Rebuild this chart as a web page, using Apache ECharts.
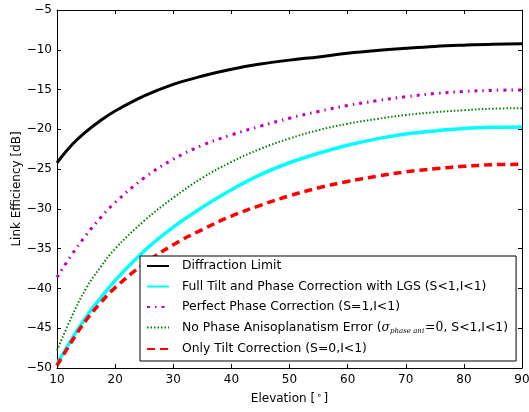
<!DOCTYPE html>
<html>
<head>
<meta charset="utf-8">
<script src="https://cdn.jsdelivr.net/npm/echarts@6/dist/echarts.min.js"></script>
<style>
  html, body { margin: 0; padding: 0; background: #fff; }
  #chart { width: 529px; height: 412px; }
</style>
</head>
<body>
<div id="chart"></div>
<script>
// elevation angle in degrees
const elevation = [10, 12.5, 15, 17.5, 20, 25, 30, 35, 40, 45, 50, 55, 60, 65, 70, 75, 80, 85, 90];

// link efficiency in dB
const diffractionLimit = [-24.2, -22.0, -20.3, -18.9, -17.7, -15.8, -14.35, -13.3, -12.45, -11.8, -11.3, -10.9, -10.45, -10.1, -9.82, -9.58, -9.42, -9.3, -9.25];
const fullTiltLGS = [-49.5, -46.4, -43.6, -41.2, -39.0, -35.3, -32.3, -29.8, -27.6, -25.7, -24.2, -23.0, -22.0, -21.2, -20.6, -20.2, -19.9, -19.75, -19.7];
const perfectPhase = [-38.6, -35.8, -33.3, -31.1, -29.2, -26.1, -23.75, -22.0, -20.7, -19.6, -18.6, -17.75, -17.0, -16.4, -15.9, -15.5, -15.25, -15.1, -15.05];
const noPhaseAniso = [-47.8, -43.6, -40.0, -37.3, -35.0, -31.5, -28.6, -26.1, -24.1, -22.45, -21.15, -20.1, -19.3, -18.7, -18.2, -17.85, -17.6, -17.4, -17.35];
const onlyTilt = [-49.7, -46.7, -44.0, -41.8, -39.9, -36.9, -34.5, -32.6, -30.9, -29.55, -28.35, -27.35, -26.55, -25.9, -25.35, -24.95, -24.65, -24.45, -24.4];

const seriesNames = [
  "Diffraction Limit",
  "Full Tilt and Phase Correction with LGS (S<1,I<1)",
  "Perfect Phase Correction (S=1,I<1)",
  "No Phase Anisoplanatism Error",
  "Only Tilt Correction (S=0,I<1)",
];

const font = "DejaVu Sans";
const minus = (v) => (v < 0 ? "\u2212" + Math.abs(v) : "" + v);
const pairs = (ys) => elevation.map((x, i) => [x, ys[i]]);

const chart = echarts.init(document.getElementById("chart"));

const axisCommon = {
  axisLine: { show: true, onZero: false, lineStyle: { color: "#000", width: 1 } },
  axisTick: { show: true, inside: true, length: 4, lineStyle: { color: "#000" } },
  splitLine: { show: false },
};

function line(name, ys, color, width, type) {
  return {
    name: name,
    type: "line",
    data: pairs(ys),
    symbol: "none",
    smooth: 0.4,
    lineStyle: { color: color, width: width, type: type },
    itemStyle: { color: color },
  };
}

chart.setOption({
  animation: false,
  backgroundColor: "#fff",
  grid: { left: 57, right: 7, top: 10, bottom: 44, outerBoundsMode: "none" },
  xAxis: [
    {
      ...axisCommon,
      type: "value",
      min: 10,
      max: 90,
      interval: 10,
      position: "bottom",
      name: "Elevation [{sup|\u2218}]",
      nameLocation: "middle",
      nameGap: 23,
      nameMoveOverlap: false,
      nameTextStyle: {
        fontFamily: font,
        fontSize: 12,
        color: "#000",
        rich: { sup: { fontFamily: "DejaVu Serif", fontSize: 9, padding: [0, 2, 6, 2], color: "#000" } },
      },
      axisLabel: { fontFamily: font, fontSize: 12, color: "#000", margin: 6 },
    },
    {
      ...axisCommon,
      type: "value",
      min: 10,
      max: 90,
      interval: 10,
      position: "top",
      axisLabel: { show: false },
    },
  ],
  yAxis: [
    {
      ...axisCommon,
      type: "value",
      min: -50,
      max: -5,
      interval: 5,
      position: "left",
      name: "Link Efficiency [dB]",
      nameLocation: "middle",
      nameGap: 34,
      nameMoveOverlap: false,
      nameTextStyle: { fontFamily: font, fontSize: 12, color: "#000" },
      axisLabel: { fontFamily: font, fontSize: 12, color: "#000", margin: 5, formatter: minus },
    },
    {
      ...axisCommon,
      type: "value",
      min: -50,
      max: -5,
      interval: 5,
      position: "right",
      axisLabel: { show: false },
    },
  ],
  legend: {
    orient: "vertical",
    left: 140,
    top: 256,
    backgroundColor: "#fff",
    borderColor: "#000",
    borderWidth: 1,
    borderRadius: 0,
    padding: [4, 8, 6, 6],
    itemGap: 8.5,
    itemWidth: 22,
    itemHeight: 14,
    itemStyle: { color: "rgba(0,0,0,0)", borderColor: "rgba(0,0,0,0)", borderWidth: 0 },
    textStyle: {
      fontFamily: font,
      fontSize: 12.4,
      color: "#000",
      padding: [0, 0, 0, 8],
      rich: {
        s: { fontFamily: "DejaVu Serif", fontStyle: "italic", fontSize: 12.4, color: "#000" },
        sub: { fontFamily: "DejaVu Serif", fontStyle: "italic", fontSize: 7, color: "#000", padding: [7, 1, 0, 0] },
        m: { fontFamily: "DejaVu Serif", fontSize: 12.4, color: "#000" },
        t: { fontFamily: font, fontSize: 12.4, color: "#000" },
      },
    },
    formatter: (name) =>
      name === seriesNames[3]
        ? "{t|No Phase Anisoplanatism Error (}{s|\u03c3}{sub|phase ani}{m|=0}{t|, S<1,I<1)}"
        : name,
    data: seriesNames,
  },
  series: [
    line(seriesNames[0], diffractionLimit, "#000000", 3, "solid"),
    line(seriesNames[1], fullTiltLGS, "#00ffff", 3.5, "solid"),
    line(seriesNames[2], perfectPhase, "#bf00bf", 3, [3, 5, 1.5, 5]),
    line(seriesNames[3], noPhaseAniso, "#008000", 2, [1.5, 2]),
    line(seriesNames[4], onlyTilt, "#ff0000", 3.5, [8, 5]),
  ],
});
</script>
</body>
</html>
